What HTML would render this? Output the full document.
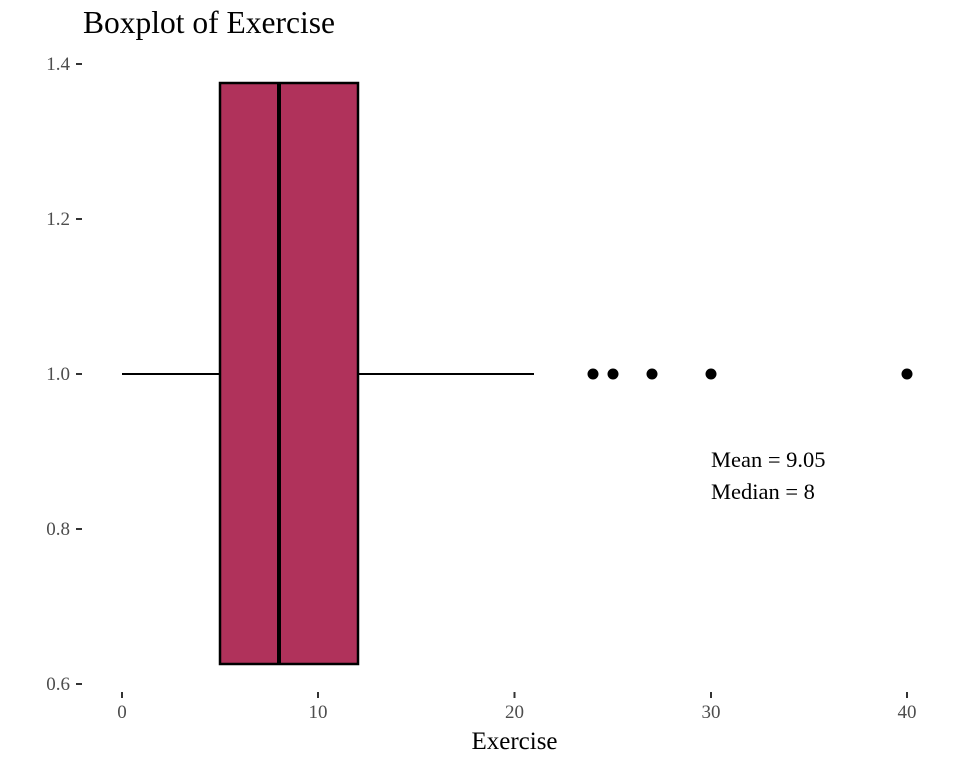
<!DOCTYPE html>
<html><head><style>body{margin:0;background:#fff}</style></head><body>
<svg width="960" height="768" xmlns="http://www.w3.org/2000/svg" font-family="Liberation Serif, serif">
<text x="83" y="33" font-size="31.5" fill="#000">Boxplot of Exercise</text>
<g fill="#4d4d4d" font-size="19" text-anchor="end">
<text x="70" y="70">1.4</text><text x="70" y="225">1.2</text><text x="70" y="380">1.0</text><text x="70" y="535">0.8</text><text x="70" y="690">0.6</text>
</g>
<g stroke="#333" stroke-width="2">
<line x1="76" x2="82" y1="64" y2="64"/><line x1="76" x2="82" y1="219" y2="219"/><line x1="76" x2="82" y1="374" y2="374"/><line x1="76" x2="82" y1="529" y2="529"/><line x1="76" x2="82" y1="684" y2="684"/>
<line x1="122" x2="122" y1="692" y2="698"/><line x1="318" x2="318" y1="692" y2="698"/><line x1="514.5" x2="514.5" y1="692" y2="698"/><line x1="711" x2="711" y1="692" y2="698"/><line x1="907" x2="907" y1="692" y2="698"/>
</g>
<g fill="#4d4d4d" font-size="19" text-anchor="middle">
<text x="122" y="718">0</text><text x="318" y="718">10</text><text x="514.5" y="718">20</text><text x="711" y="718">30</text><text x="907" y="718">40</text>
</g>
<text x="514.5" y="749" font-size="25" text-anchor="middle">Exercise</text>
<line x1="122" x2="220" y1="374" y2="374" stroke="#000" stroke-width="2"/>
<line x1="358" x2="534" y1="374" y2="374" stroke="#000" stroke-width="2"/>
<rect x="220" y="83" width="138" height="581" fill="#b0325b" stroke="#000" stroke-width="2.5"/>
<line x1="279" x2="279" y1="83" y2="664" stroke="#000" stroke-width="4"/>
<g fill="#000"><circle cx="593" cy="374" r="5.5"/><circle cx="613" cy="374" r="5.5"/><circle cx="652" cy="374" r="5.5"/><circle cx="711" cy="374" r="5.5"/><circle cx="907" cy="374" r="5.5"/></g>
<text x="711" y="467" font-size="22.5">Mean = 9.05</text>
<text x="711" y="499" font-size="22.5">Median = 8</text>
</svg>
</body></html>
